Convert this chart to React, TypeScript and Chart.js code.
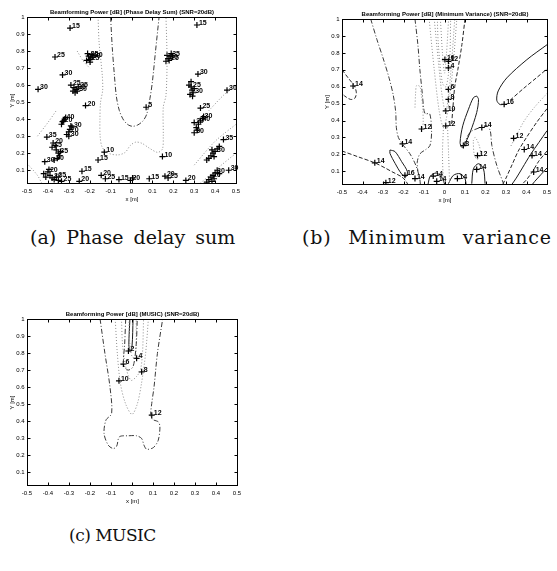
import { useEffect, useRef } from "react";
import { Chart, registerables } from "chart.js";

Chart.register(...registerables);

type Pt = [number, number];
type Mark = [number, number, string];

// ---------- axes ----------
const xRange: Pt = [-0.5, 0.5];
const yRange: Pt = [0.025, 1];
const xTickValues: number[] = [-0.5, -0.4, -0.3, -0.2, -0.1, 0, 0.1, 0.2, 0.3, 0.4, 0.5];
const xTickLabels: string[] = ["-0.5", "-0.4", "-0.3", "-0.2", "-0.1", "0", "0.1", "0.2", "0.3", "0.4", "0.5"];
const yTickValues: number[] = [0.1, 0.2, 0.3, 0.4, 0.5, 0.6, 0.7, 0.8, 0.9, 1];
const yTickLabels: string[] = ["0.1", "0.2", "0.3", "0.4", "0.5", "0.6", "0.7", "0.8", "0.9", "1"];
const xAxisLabel = "x [m]";
const yAxisLabel = "Y [m]";

const titleA = "Beamforming Power [dB] (Phase Delay Sum) (SNR=20dB)";
const titleB = "Beamforming Power [dB] (Minimum Variance) (SNR=20dB)";
const titleC = "Beamforming Power [dB] (MUSIC) (SNR=20dB)";
const captionA = "(a) Phase delay sum";
const captionB = "(b) Minimum variance";
const captionC = "(c) MUSIC";

// ---------- (a) Phase delay sum ----------
const pdsLevel5: Pt[] = [[-0.1, 1.0], [-0.092, 0.82], [-0.082, 0.66], [-0.072, 0.53], [-0.058, 0.45], [-0.038, 0.395], [-0.015, 0.366], [0.006, 0.358], [0.03, 0.366], [0.055, 0.39], [0.073, 0.43], [0.088, 0.52], [0.1, 0.62], [0.115, 0.8], [0.132, 1.0]];
const pdsLevel10: Pt[] = [[-0.16, 1.0], [-0.155, 0.85], [-0.14, 0.66], [-0.138, 0.57], [-0.148, 0.5], [-0.151, 0.4], [-0.15, 0.3], [-0.14, 0.235], [-0.11, 0.2], [-0.065, 0.19], [-0.03, 0.205], [-0.006, 0.245], [0.02, 0.265], [0.05, 0.258], [0.085, 0.23], [0.125, 0.205], [0.148, 0.225], [0.152, 0.3], [0.152, 0.47], [0.165, 0.54], [0.17, 0.75], [0.165, 1.0]];
const pdsBand1: Pt[] = [[0.33, 0.025], [0.42, 0.12], [0.5, 0.2]];
const pdsBand2: Pt[] = [[0.3, 0.13], [0.4, 0.27], [0.5, 0.37]];
const pdsBand3: Pt[] = [[0.37, 0.45], [0.44, 0.54], [0.5, 0.6]];
const pdsBand4: Pt[] = [[-0.5, 0.14], [-0.45, 0.07], [-0.43, 0.025]];
const pdsBand5: Pt[] = [[-0.45, 0.3], [-0.4, 0.38], [-0.36, 0.45]];
const pdsBand6: Pt[] = [[-0.26, 0.8], [-0.23, 0.74], [-0.2, 0.7]];
const pdsMarks: Mark[] = [
  [-0.294, 0.935, "15"], [0.313, 0.953, "15"], [-0.366, 0.765, "25"],
  [-0.215, 0.745, ""], [-0.205, 0.77, "35"], [-0.195, 0.76, "30"], [-0.19, 0.78, ""], [-0.2, 0.75, "25"], [-0.185, 0.765, "30"], [-0.21, 0.785, ""], [-0.198, 0.735, ""],
  [0.165, 0.74, ""], [0.175, 0.755, "30"], [0.185, 0.77, "35"], [0.19, 0.785, ""], [0.18, 0.745, "25"], [0.195, 0.765, ""], [0.17, 0.775, ""],
  [-0.33, 0.66, "30"], [0.318, 0.665, "30"],
  [-0.29, 0.6, "25"], [-0.275, 0.585, ""], [-0.265, 0.575, "35"], [-0.28, 0.565, ""], [-0.255, 0.59, "25"], [-0.27, 0.555, ""], [-0.26, 0.565, "30"],
  [-0.447, 0.575, "30"], [0.457, 0.57, "30"],
  [0.275, 0.6, ""], [0.285, 0.59, "25"], [0.29, 0.57, ""], [0.295, 0.555, "30"], [0.28, 0.545, ""], [0.3, 0.58, ""], [0.285, 0.62, ""], [0.292, 0.535, ""],
  [-0.22, 0.48, "20"], [0.33, 0.465, "25"],
  [-0.335, 0.37, ""], [-0.33, 0.385, "20"], [-0.32, 0.4, "40"], [-0.315, 0.41, ""], [-0.325, 0.39, ""],
  [0.3, 0.38, "20"], [0.32, 0.37, ""], [0.33, 0.39, "40"], [0.34, 0.405, "30"], [0.345, 0.415, ""], [0.31, 0.35, ""], [0.3, 0.32, "30"], [0.315, 0.335, ""],
  [-0.31, 0.31, ""], [-0.3, 0.325, "20"], [-0.295, 0.34, ""], [-0.285, 0.355, "30"], [-0.29, 0.36, ""], [-0.3, 0.3, "30"],
  [-0.405, 0.295, "35"], [0.44, 0.28, "35"],
  [-0.375, 0.26, "20"], [-0.365, 0.245, ""], [-0.38, 0.235, "25"], [-0.36, 0.22, ""], [-0.35, 0.2, "35"], [-0.345, 0.185, ""], [-0.355, 0.17, ""], [-0.37, 0.16, "30"], [-0.34, 0.21, ""],
  [0.42, 0.24, ""], [0.41, 0.225, ""], [0.4, 0.21, "30"], [0.39, 0.2, ""], [0.38, 0.185, ""], [0.37, 0.17, ""], [0.36, 0.16, ""], [0.395, 0.18, ""], [0.385, 0.22, ""],
  [-0.415, 0.15, "30"],
  [-0.42, 0.08, ""], [-0.4, 0.09, "20"], [-0.39, 0.07, ""], [-0.38, 0.055, "30"], [-0.37, 0.045, ""], [-0.36, 0.06, "25"], [-0.35, 0.04, ""], [-0.335, 0.035, "25"], [-0.395, 0.105, ""], [-0.41, 0.06, ""],
  [-0.237, 0.094, "15"], [-0.25, 0.035, "20"], [-0.145, 0.07, "20"], [-0.125, 0.05, "25"], [-0.06, 0.045, "15"], [-0.005, 0.04, "20"], [0.005, 0.055, ""], [0.085, 0.05, "15"], [0.16, 0.065, "20"], [0.175, 0.055, "25"], [0.26, 0.04, "20"],
  [0.36, 0.03, ""], [0.37, 0.045, ""], [0.38, 0.06, "20"], [0.39, 0.07, ""], [0.4, 0.085, "30"], [0.41, 0.1, ""], [0.395, 0.05, ""], [0.42, 0.08, ""], [0.385, 0.035, ""],
  [0.465, 0.1, "30"],
  [-0.13, 0.206, "10"], [-0.16, 0.16, "15"], [0.148, 0.18, "10"], [0.07, 0.47, "5"],
];

// ---------- (b) Minimum variance ----------
const mvLoopLeft: Pt[] = [[-0.5, 0.7], [-0.47, 0.652], [-0.44, 0.604], [-0.43, 0.564], [-0.438, 0.531], [-0.459, 0.525], [-0.487, 0.545], [-0.5, 0.56]];
const mvLeftLong: Pt[] = [[-0.36, 1.0], [-0.33, 0.88], [-0.3, 0.77], [-0.27, 0.65], [-0.25, 0.55], [-0.238, 0.45], [-0.235, 0.36], [-0.225, 0.3], [-0.205, 0.26], [-0.17, 0.206], [-0.145, 0.15], [-0.13, 0.1], [-0.12, 0.05], [-0.118, 0.025]];
const mvLowerLeft: Pt[] = [[-0.5, 0.22], [-0.42, 0.185], [-0.34, 0.15], [-0.29, 0.12], [-0.257, 0.098], [-0.21, 0.068], [-0.19, 0.045], [-0.18, 0.025]];
const mvLoop16: Pt[] = [[-0.266, 0.226], [-0.241, 0.216], [-0.209, 0.157], [-0.181, 0.098], [-0.188, 0.068], [-0.209, 0.084], [-0.241, 0.147], [-0.266, 0.206], [-0.266, 0.226]];
const mvDot12: Pt[] = [[-0.144, 0.477], [-0.141, 0.56], [-0.136, 0.607], [-0.12, 0.6], [-0.112, 0.545], [-0.106, 0.467], [-0.104, 0.389], [-0.108, 0.35]];
const mvFunnelLeft: Pt[] = [[-0.144, 1.0], [-0.13, 0.85], [-0.12, 0.7], [-0.11, 0.58], [-0.1, 0.46], [-0.093, 0.44], [-0.072, 0.44], [-0.063, 0.33], [-0.071, 0.252], [-0.09, 0.23], [-0.12, 0.203], [-0.133, 0.154], [-0.13, 0.1]];
const mvFunnelRight: Pt[] = [[0.1, 1.0], [0.085, 0.85], [0.065, 0.7], [0.05, 0.6], [0.04, 0.46], [0.035, 0.38]];
const mvCenter1: Pt[] = [[-0.02, 1.0], [-0.01, 0.8], [0.0, 0.68], [0.01, 0.8], [0.02, 1.0]];
const mvCenter2: Pt[] = [[-0.05, 1.0], [-0.03, 0.75], [-0.012, 0.55], [0.005, 0.45], [0.02, 0.55], [0.035, 0.75], [0.05, 1.0]];
const mvCenter3: Pt[] = [[-0.075, 1.0], [-0.05, 0.7], [-0.025, 0.45], [-0.005, 0.36], [0.015, 0.45], [0.04, 0.7], [0.06, 1.0]];
const mvCenter4: Pt[] = [[-0.035, 1.0], [-0.03, 0.85], [-0.01, 0.62], [0.008, 0.6], [0.025, 0.75], [0.03, 1.0]];
const mvStem1: Pt[] = [[-0.005, 0.36], [-0.01, 0.2], [-0.005, 0.025]];
const mvStem2: Pt[] = [[0.015, 0.36], [0.02, 0.2], [0.025, 0.025]];
const mvLoop8: Pt[] = [[0.157, 0.545], [0.166, 0.525], [0.157, 0.447], [0.125, 0.33], [0.095, 0.252], [0.084, 0.242], [0.076, 0.271], [0.089, 0.369], [0.117, 0.467], [0.141, 0.535], [0.157, 0.545]];
const mvMid14: Pt[] = [[0.092, 0.252], [0.125, 0.33], [0.174, 0.359], [0.206, 0.369], [0.223, 0.34], [0.231, 0.252], [0.255, 0.135], [0.288, 0.027]];
const mvDot12b: Pt[] = [[0.14, 0.28], [0.15, 0.3], [0.17, 0.25], [0.175, 0.2], [0.16, 0.17], [0.145, 0.2], [0.14, 0.28]];
const mvBottom1: Pt[] = [[-0.08, 0.025], [-0.07, 0.07], [-0.04, 0.09], [-0.01, 0.06], [0.0, 0.025]];
const mvBottom2: Pt[] = [[0.019, 0.027], [0.043, 0.076], [0.076, 0.086], [0.1, 0.057], [0.105, 0.025]];
const mvBottom3: Pt[] = [[0.133, 0.027], [0.141, 0.115], [0.166, 0.145], [0.19, 0.115], [0.198, 0.027]];
const mvRight16: Pt[] = [[0.5, 0.848], [0.402, 0.76], [0.304, 0.652], [0.262, 0.575], [0.255, 0.52], [0.27, 0.495], [0.291, 0.496]];
const mvRight16b: Pt[] = [[0.32, 0.52], [0.386, 0.59], [0.451, 0.655], [0.5, 0.705]];
const mvRight12: Pt[] = [[0.5, 0.56], [0.44, 0.48], [0.39, 0.4], [0.345, 0.3], [0.32, 0.24]];
const mvRight14a: Pt[] = [[0.5, 0.47], [0.45, 0.39], [0.4, 0.3], [0.36, 0.22], [0.33, 0.14], [0.3, 0.06], [0.285, 0.025]];
const mvRight14b: Pt[] = [[0.5, 0.34], [0.46, 0.27], [0.42, 0.2], [0.38, 0.12], [0.35, 0.06], [0.33, 0.025]];
const mvRight14c: Pt[] = [[0.5, 0.22], [0.46, 0.16], [0.43, 0.1], [0.4, 0.05], [0.38, 0.025]];
const mvRight14d: Pt[] = [[0.5, 0.12], [0.47, 0.08], [0.44, 0.04], [0.43, 0.025]];
const mvMarks: Mark[] = [
  [-0.446, 0.604, "14"], [-0.34, 0.15, "14"], [-0.286, 0.033, "12"], [-0.193, 0.076, "16"], [-0.205, 0.262, "14"],
  [-0.144, 0.057, "14"], [-0.112, 0.35, "12"], [-0.055, 0.072, "14"], [-0.038, 0.041, "14"],
  [0.002, 0.76, "10"], [0.019, 0.75, "12"], [0.019, 0.711, "4"], [0.019, 0.584, "6"], [0.019, 0.525, "8"], [0.006, 0.457, "10"], [0.006, 0.369, "12"],
  [0.092, 0.252, "8"], [0.182, 0.359, "14"], [0.161, 0.193, "12"], [0.157, 0.111, "14"], [0.063, 0.057, "14"],
  [0.291, 0.496, "16"], [0.337, 0.295, "12"], [0.389, 0.229, "14"], [0.427, 0.193, "14"], [0.435, 0.096, "14"],
];

// ---------- (c) MUSIC ----------
const muLevel12: Pt[] = [[-0.152, 1.0], [-0.129, 0.798], [-0.105, 0.602], [-0.097, 0.445], [-0.124, 0.406], [-0.133, 0.327], [-0.113, 0.259], [-0.089, 0.239], [-0.073, 0.253], [-0.06, 0.308], [-0.017, 0.314], [0.022, 0.314], [0.046, 0.298], [0.057, 0.259], [0.07, 0.235], [0.102, 0.245], [0.125, 0.288], [0.133, 0.367], [0.125, 0.396], [0.098, 0.41], [0.089, 0.435], [0.094, 0.504], [0.105, 0.602], [0.121, 0.798], [0.146, 1.0]];
const muLevel10: Pt[] = [[-0.08, 1.0], [-0.07, 0.8], [-0.055, 0.62], [-0.03, 0.5], [0.0, 0.44], [0.025, 0.5], [0.045, 0.62], [0.065, 0.8], [0.078, 1.0]];
const muLevel8: Pt[] = [[-0.05, 1.0], [-0.045, 0.85], [-0.03, 0.72], [-0.005, 0.64], [0.02, 0.66], [0.04, 0.7], [0.05, 0.8], [0.055, 1.0]];
const muLevel6: Pt[] = [[-0.03, 1.0], [-0.035, 0.85], [-0.04, 0.735], [-0.02, 0.7], [0.005, 0.72], [0.02, 0.85], [0.025, 1.0]];
const muLevel4: Pt[] = [[-0.015, 1.0], [-0.01, 0.85], [0.0, 0.78], [0.015, 0.77], [0.02, 0.85], [0.02, 1.0]];
const muLevel2: Pt[] = [[-0.01, 1.0], [-0.015, 0.85], [-0.01, 0.81], [0.0, 0.84], [0.005, 1.0]];
const muMarks: Mark[] = [
  [0.094, 0.435, "12"], [-0.062, 0.637, "10"], [0.046, 0.69, "8"], [-0.041, 0.735, "6"], [0.022, 0.769, "4"], [-0.017, 0.812, "2"],
];

// ---------- rendering ----------
type StyleName = "solid" | "dash" | "dashdot" | "dot";
const STYLES: Record<StyleName, { color: string; dash: number[]; width: number }> = {
  solid: { color: "#1a1a1a", dash: [], width: 1 },
  dash: { color: "#262626", dash: [4, 2], width: 1 },
  dashdot: { color: "#3a3a3a", dash: [5, 2, 1, 2], width: 1 },
  dot: { color: "#8c8c8c", dash: [1, 2], width: 1 },
};

type Spec = {
  lines: { pts: Pt[]; style: StyleName }[];
  marks: Mark[];
  title: string;
  padding: { left: number; right: number; top: number; bottom: number };
};

const FONT = "'Liberation Sans', Arial, sans-serif";

const framePlugin = {
  id: "matlabFrame",
  afterDatasetsDraw(chart: any, _args: any, opts: any) {
    const { ctx } = chart;
    const meta = chart.getDatasetMeta(chart.data.datasets.length - 1);
    const marks: Mark[] = opts.marks || [];
    ctx.save();
    ctx.fillStyle = "#000";
    ctx.font = `bold 7px ${FONT}`;
    ctx.textAlign = "left";
    ctx.textBaseline = "alphabetic";
    meta.data.forEach((el: any, i: number) => {
      const lab = marks[i] ? marks[i][2] : "";
      if (lab) ctx.fillText(lab, el.x + 2, el.y);
    });
    ctx.restore();
  },
  afterDraw(chart: any, _args: any, opts: any) {
    const { ctx, chartArea: a, scales } = chart;
    const xs = scales.x;
    const ys = scales.y;
    const L = Math.round(a.left) + 0.5;
    const R = Math.round(a.right) + 0.5;
    const T = Math.round(a.top) + 0.5;
    const B = Math.round(a.bottom) + 0.5;
    ctx.save();
    ctx.strokeStyle = "#000";
    ctx.lineWidth = 1;
    ctx.setLineDash([]);
    ctx.strokeRect(L, T, R - L, B - T);
    ctx.beginPath();
    xTickValues.forEach((v) => {
      const p = Math.round(xs.getPixelForValue(v)) + 0.5;
      ctx.moveTo(p, B); ctx.lineTo(p, B - 3);
      ctx.moveTo(p, T); ctx.lineTo(p, T + 3);
    });
    yTickValues.forEach((v) => {
      const p = Math.round(ys.getPixelForValue(v)) + 0.5;
      ctx.moveTo(L, p); ctx.lineTo(L + 3, p);
      ctx.moveTo(R, p); ctx.lineTo(R - 3, p);
    });
    ctx.stroke();
    ctx.fillStyle = "#000";
    ctx.font = `6px ${FONT}`;
    ctx.textAlign = "center";
    ctx.textBaseline = "middle";
    xTickValues.forEach((v, i) => {
      ctx.fillText(xTickLabels[i], xs.getPixelForValue(v), B + 8);
    });
    ctx.textAlign = "right";
    yTickValues.forEach((v, i) => {
      ctx.fillText(yTickLabels[i], L - 3, ys.getPixelForValue(v));
    });
    ctx.textAlign = "center";
    ctx.fillText(xAxisLabel, (L + R) / 2, B + 16);
    ctx.save();
    ctx.translate(L - 15, (T + B) / 2);
    ctx.rotate(-Math.PI / 2);
    ctx.fillText(yAxisLabel, 0, 0);
    ctx.restore();
    ctx.font = `bold 6px ${FONT}`;
    ctx.fillText(opts.title || "", (L + R) / 2, T - 5);
    ctx.restore();
  },
};

function buildChart(canvas: HTMLCanvasElement, spec: Spec) {
  const datasets: any[] = spec.lines.map((l) => {
    const s = STYLES[l.style];
    return {
      data: l.pts.map(([x, y]) => ({ x, y })),
      showLine: true,
      borderColor: s.color,
      borderWidth: s.width,
      borderDash: s.dash,
      pointRadius: 0,
      pointHoverRadius: 0,
      tension: 0.3,
      fill: false,
    };
  });
  datasets.push({
    data: spec.marks.map(([x, y]) => ({ x, y })),
    showLine: false,
    pointStyle: "cross",
    pointRadius: 3,
    pointHoverRadius: 3,
    borderColor: "#000",
    backgroundColor: "#000",
    borderWidth: 1.2,
  });
  return new Chart(canvas, {
    type: "scatter",
    data: { datasets },
    options: {
      responsive: false,
      animation: false,
      devicePixelRatio: 1,
      events: [],
      layout: { padding: spec.padding },
      plugins: {
        legend: { display: false },
        title: { display: false },
        tooltip: { enabled: false },
        matlabFrame: { title: spec.title, marks: spec.marks },
      } as any,
      scales: {
        x: { type: "linear", min: xRange[0], max: xRange[1], display: false },
        y: { type: "linear", min: yRange[0], max: yRange[1], display: false },
      },
    },
    plugins: [framePlugin],
  });
}

const specA: Spec = {
  title: titleA,
  padding: { left: 27, right: 14, top: 17, bottom: 27 },
  marks: pdsMarks,
  lines: [
    { pts: pdsLevel10, style: "dot" },
    { pts: pdsLevel5, style: "dashdot" },
    { pts: pdsBand1, style: "dot" },
    { pts: pdsBand2, style: "dot" },
    { pts: pdsBand3, style: "dot" },
    { pts: pdsBand4, style: "dot" },
    { pts: pdsBand5, style: "dot" },
    { pts: pdsBand6, style: "dot" },
  ],
};

const specB: Spec = {
  title: titleB,
  padding: { left: 62, right: 10, top: 19, bottom: 26 },
  marks: mvMarks,
  lines: [
    { pts: mvLoopLeft, style: "dash" },
    { pts: mvLeftLong, style: "dashdot" },
    { pts: mvLowerLeft, style: "dash" },
    { pts: mvLoop16, style: "solid" },
    { pts: mvDot12, style: "dot" },
    { pts: mvFunnelLeft, style: "dashdot" },
    { pts: mvFunnelRight, style: "dash" },
    { pts: mvCenter1, style: "dot" },
    { pts: mvCenter2, style: "dot" },
    { pts: mvCenter3, style: "dot" },
    { pts: mvCenter4, style: "dot" },
    { pts: mvStem1, style: "dot" },
    { pts: mvStem2, style: "dot" },
    { pts: mvLoop8, style: "solid" },
    { pts: mvMid14, style: "dashdot" },
    { pts: mvDot12b, style: "dot" },
    { pts: mvBottom1, style: "solid" },
    { pts: mvBottom2, style: "solid" },
    { pts: mvBottom3, style: "solid" },
    { pts: mvRight16, style: "solid" },
    { pts: mvRight16b, style: "dash" },
    { pts: mvRight12, style: "dot" },
    { pts: mvRight14a, style: "dash" },
    { pts: mvRight14b, style: "solid" },
    { pts: mvRight14c, style: "dash" },
    { pts: mvRight14d, style: "solid" },
  ],
};

const specC: Spec = {
  title: titleC,
  padding: { left: 27, right: 13, top: 19, bottom: 30 },
  marks: muMarks,
  lines: [
    { pts: muLevel12, style: "dashdot" },
    { pts: muLevel10, style: "dot" },
    { pts: muLevel8, style: "dot" },
    { pts: muLevel6, style: "dashdot" },
    { pts: muLevel4, style: "dot" },
    { pts: muLevel2, style: "solid" },
  ],
};

const captionStyle = (left: number, top: number, size: number, letter: number, word: number): React.CSSProperties => ({
  position: "absolute",
  left,
  top,
  whiteSpace: "nowrap",
  fontFamily: "'DejaVu Serif', 'Liberation Serif', serif",
  fontSize: size,
  lineHeight: `${size}px`,
  letterSpacing: letter,
  wordSpacing: word,
  color: "#111",
});

export default function App() {
  const refA = useRef<HTMLCanvasElement>(null);
  const refB = useRef<HTMLCanvasElement>(null);
  const refC = useRef<HTMLCanvasElement>(null);

  useEffect(() => {
    const charts = [
      buildChart(refA.current!, specA),
      buildChart(refB.current!, specB),
      buildChart(refC.current!, specC),
    ];
    return () => charts.forEach((c) => c.destroy());
  }, []);

  return (
    <div style={{ position: "fixed", left: 0, top: 0, width: 557, height: 571, background: "#fff", overflow: "hidden" }}>
      <canvas ref={refA} width={250} height={210} style={{ position: "absolute", left: 0, top: 0, width: 250, height: 210 }} />
      <canvas ref={refB} width={277} height={210} style={{ position: "absolute", left: 280, top: 0, width: 277, height: 210 }} />
      <canvas ref={refC} width={250} height={215} style={{ position: "absolute", left: 0, top: 300, width: 250, height: 215 }} />
      <div style={captionStyle(30, 228, 19, 0, 4)}>{captionA}</div>
      <div style={captionStyle(302, 228, 19, 0.8, 10)}>{captionB}</div>
      <div style={captionStyle(69, 527, 17, -0.5, 0)}>{captionC}</div>
    </div>
  );
}
